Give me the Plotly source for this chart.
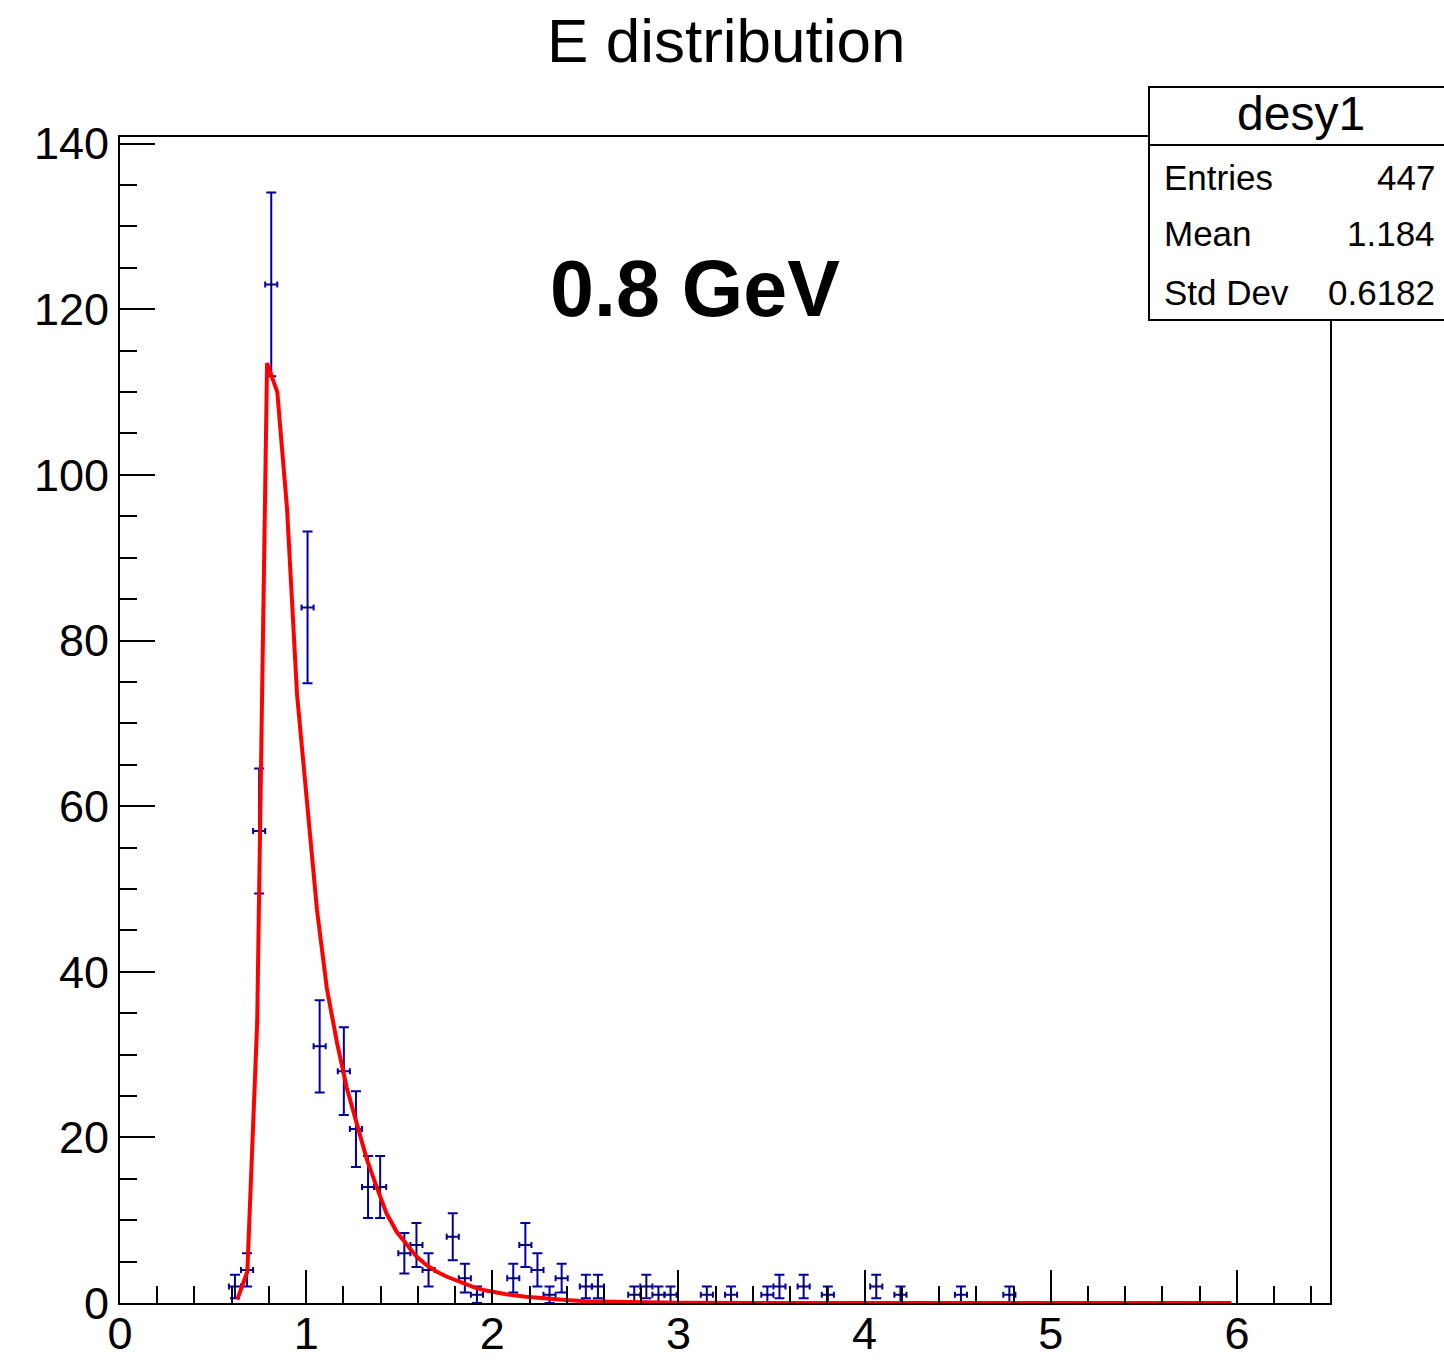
import plotly.graph_objects as go
import numpy as np

# ---------------- data ----------------
bin_centers = [0.6175, 0.6825, 0.7475, 0.8125, 1.0075, 1.0725, 1.2025, 1.2675, 1.3325, 1.3975,
               1.5275, 1.5925, 1.6575, 1.7875, 1.8525, 1.9175, 2.1125, 2.1775, 2.2425, 2.3075,
               2.3725, 2.5025, 2.5675, 2.7625, 2.8275, 2.8925, 2.9575, 3.1525, 3.2825, 3.4775,
               3.5425, 3.6725, 3.8025, 4.0625, 4.1925, 4.5175, 4.7775]
counts = [2, 4, 57, 123, 84, 31, 28, 21, 14, 14,
          6, 7, 4, 8, 3, 1, 3, 7, 4, 1,
          3, 2, 2, 1, 2, 1, 1, 1, 1, 1,
          2, 2, 1, 2, 1, 1, 1]
bin_half_width = 0.0325

fit_x = [0.630, 0.684, 0.737, 0.790, 0.845, 0.897, 0.951, 1.004, 1.058, 1.111,
         1.165, 1.218, 1.272, 1.325, 1.379, 1.432, 1.486, 1.539, 1.593, 1.646,
         1.700, 1.753, 1.807, 1.860, 1.914, 1.967, 2.074, 2.181, 2.288, 2.395,
         2.500, 2.750, 3.000, 3.500, 4.000, 5.000, 5.970]
fit_y = [0.4, 3.8, 34.0, 113.5, 110.0, 96.0, 73.5, 60.0, 47.5, 38.0,
         31.5, 26.0, 21.7, 17.4, 14.0, 10.8, 8.6, 7.1, 5.6, 4.6,
         3.8, 3.2, 2.7, 2.2, 1.8, 1.5, 1.05, 0.75, 0.5, 0.35,
         0.22, 0.08, 0.03, 0.01, 0.0, 0.0, 0.0]

title_text = "E distribution"
energy_label = "0.8 GeV"
stats_name = "desy1"
stats_labels = ["Entries", "Mean", "Std Dev"]
stats_values = ["447", "1.184", "0.6182"]

x_range = [0, 6.5]
y_range = [0, 140.8]

# ---------------- figure ----------------
W, H = 1444, 1362
L, R, T, B = 120, 114, 137, 59
FONT = "Liberation Sans, Arial, Helvetica, sans-serif"


def px_x(px):
    return (px - L) / (W - L - R)


def px_y(py):
    return (H - B - py) / (H - B - T)


errs = [np.sqrt(c) for c in counts]

fig = go.Figure()
fig.add_trace(go.Scatter(
    x=bin_centers, y=counts, mode="markers",
    marker=dict(size=2, color="black", symbol="square"),
    error_y=dict(type="data", array=errs, visible=True, color="#0000a0", thickness=2, width=5),
    error_x=dict(type="data", array=[bin_half_width] * len(counts), visible=True,
                 color="#0000a0", thickness=2, width=3),
    showlegend=False, hoverinfo="x+y",
))
fig.add_trace(go.Scatter(
    x=fit_x, y=fit_y, mode="lines",
    line=dict(color="#ff0000", width=4),
    showlegend=False,
))

axis_common = dict(
    showline=True, linecolor="black", linewidth=2, mirror=True,
    ticks="inside", tickcolor="black", tickwidth=2,
    showgrid=False, zeroline=False, automargin=False,
    tickfont=dict(family=FONT, size=45, color="black"),
)

fig.update_xaxes(range=x_range, tick0=0, dtick=1, ticklen=33, ticklabelstandoff=-10,
                 minor=dict(dtick=0.2, ticklen=17, tickwidth=2, ticks="inside", tickcolor="black"),
                 **axis_common)
fig.update_yaxes(range=y_range, tick0=0, dtick=20, ticklen=35,
                 minor=dict(dtick=5, ticklen=17, tickwidth=2, ticks="inside", tickcolor="black"),
                 **axis_common)

shapes = [
    dict(type="rect", xref="paper", yref="paper",
         x0=px_x(1149), x1=px_x(1460), y0=px_y(320), y1=px_y(87),
         line=dict(color="black", width=2), fillcolor="white", layer="above"),
    dict(type="line", xref="paper", yref="paper",
         x0=px_x(1149), x1=px_x(1460), y0=px_y(145), y1=px_y(145),
         line=dict(color="black", width=2), layer="above"),
]

annotations = [
    dict(text=stats_name, xref="paper", yref="paper", x=px_x(1301), y=px_y(113),
         xanchor="center", yanchor="middle", showarrow=False,
         font=dict(family=FONT, size=48, color="black")),
    dict(text="<b>" + energy_label + "</b>", xref="paper", yref="paper", x=px_x(695), y=px_y(288),
         xanchor="center", yanchor="middle", showarrow=False,
         font=dict(family=FONT, size=79, color="black")),
]
row_y = [177, 234, 292]
for lab, val, yy in zip(stats_labels, stats_values, row_y):
    annotations.append(dict(text=lab, xref="paper", yref="paper", x=px_x(1162), y=px_y(yy),
                            xanchor="left", yanchor="middle", showarrow=False,
                            font=dict(family=FONT, size=35, color="black")))
    annotations.append(dict(text=val, xref="paper", yref="paper", x=px_x(1437), y=px_y(yy),
                            xanchor="right", yanchor="middle", showarrow=False,
                            font=dict(family=FONT, size=35, color="black")))

fig.update_layout(
    width=W, height=H, autosize=False,
    margin=dict(l=L, r=R, t=T, b=B, pad=0),
    paper_bgcolor="white", plot_bgcolor="white",
    title=dict(text=title_text, x=0.503, xanchor="center", y=1 - 40 / H, yanchor="middle",
               yref="container", font=dict(family=FONT, size=62, color="black")),
    shapes=shapes, annotations=annotations,
)

fig.write_html("out.html", config=dict(displayModeBar=False, responsive=False))
